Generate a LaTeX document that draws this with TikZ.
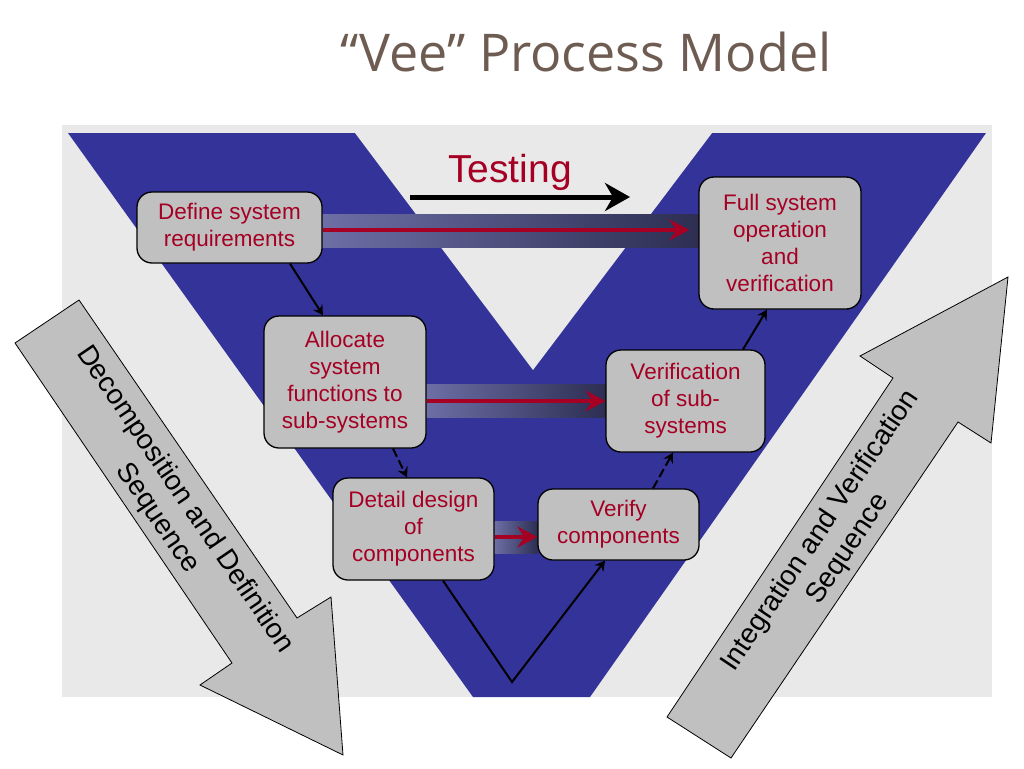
\documentclass[tikz,border=0pt]{standalone}
\usepackage{fontspec}
\setmainfont{Liberation Sans}
\newfontfamily\titlefont{Open Sans}
\usetikzlibrary{arrows.meta}
\pgfdeclarelayer{backdrop}
\pgfdeclarelayer{middle}
\pgfsetlayers{backdrop,middle,main}
\definecolor{vblue}{RGB}{51,51,153}
\definecolor{bgg}{RGB}{233,233,233}
\definecolor{boxg}{RGB}{192,192,192}
\definecolor{vred}{RGB}{165,0,36}
\definecolor{ttl}{RGB}{110,92,82}
\definecolor{barL}{RGB}{108,110,165}
\definecolor{barR}{RGB}{45,46,82}
\begin{document}
\begin{tikzpicture}[x=1pt,y=-1pt,
  stepbox/.style={draw=black, line width=1.3pt, fill=boxg, rounded corners=15pt,
    text=vred, align=center, font=\fontsize{22.5}{27}\selectfont, inner sep=0pt},
  flowarrow/.style={draw=black, line width=2pt, -{Stealth[length=10pt,width=11pt,inset=3.5pt]}},
  redarrow/.style={draw=vred, line width=4pt, -{Stealth[length=20pt,width=21pt,inset=7pt]}},
  testarrow/.style={draw=black, line width=5pt, -{Stealth[length=25pt,width=28pt,inset=8pt]}},
  bigarrow/.style={draw=black, line width=0.8pt, fill=boxg},
  bar/.style={left color=barL, right color=barR},
  arrowlabel/.style={align=center, font=\fontsize{28}{33}\selectfont, text=black}
]
\begin{pgfonlayer}{backdrop}
\useasboundingbox (0,0) rectangle (1024,768);
\fill[white] (0,0) rectangle (1024,768);
% background panel
\fill[bgg] (62,125) rectangle (992,697);
% the V
\fill[vblue] (68,133) -- (986,133) -- (590,697) -- (473,697) -- cycle;
\fill[bgg] (355,133) -- (712,133) -- (533,370) -- cycle;
\end{pgfonlayer}

% title
\node[font=\titlefont\fontsize{52}{58}\selectfont, text=ttl, anchor=base] (title) at (586,71) {“Vee” Process Model};

% boxes
\node[stepbox, minimum width=185pt, minimum height=71pt] (b1) at (229.5,227.5) {Define system\\requirements};
\node[stepbox, minimum width=162pt, minimum height=132pt] (b2) at (345,382) {Allocate\\system\\functions to\\sub-systems};
\node[stepbox, minimum width=161pt, minimum height=102pt] (b3) at (413.5,529) {Detail design\\of\\components};
\node[stepbox, minimum width=161pt, minimum height=71pt] (b4) at (618.5,524.5) {Verify\\components};
\node[stepbox, minimum width=159pt, minimum height=102pt] (b5) at (685.5,401) {Verification\\of sub-\\systems};
\node[stepbox, minimum width=162pt, minimum height=132pt] (b6) at (780,243) {Full system\\operation\\and\\verification};

% gradient bars and red arrows (behind boxes)
\begin{pgfonlayer}{middle}
\shade[bar] (b1.east |- 0,214) rectangle (b6.west |- 0,247);
\shade[bar] (b2.east |- 0,384) rectangle (b5.west |- 0,417);
\shade[bar] (b3.east |- 0,521) rectangle (b4.west |- 0,553);
\draw[redarrow, shorten >=9pt] (b1.east |- 0,230) -- (b6.west |- 0,230);
\draw[redarrow] (b2.east |- 0,401) -- (b5.west |- 0,401);
\draw[redarrow] (b3.east |- 0,537) -- (b4.west |- 0,537);
\end{pgfonlayer}

% flow arrows
\draw[flowarrow] (b1.south -| 290,0) -- (b2.north -| 323,0);
\draw[flowarrow, dash pattern=on 9pt off 4pt] (b2.south -| 393,0) -- (b3.north -| 407,0);
\coordinate (vbot) at (512,682);
\draw[flowarrow] (b3.south -| 443,0) -- (vbot) -- (b4.south -| 605,0);
\draw[flowarrow, dash pattern=on 9pt off 4pt] (b4.north -| 653,0) -- (b5.south -| 673,0);
\draw[flowarrow] (b5.north -| 743,0) -- (b6.south -| 767,0);

% testing label and arrow
\node[text=vred, font=\fontsize{39}{44}\selectfont, anchor=base] (testing) at (510,182) {Testing};
\coordinate (ts) at (410,197);
\coordinate (te) at (630,197);
\draw[testarrow] (ts) -- (te);

% big arrows
\draw[bigarrow] (15,343) -- (79,300) -- (297,618) -- (331,597) -- (343,755) -- (200,685) -- (232,663) -- cycle;
\draw[bigarrow] (667,717) -- (731,758) -- (958,422) -- (991,443) -- (1008,277) -- (860,356) -- (893,378) -- cycle;
\node[arrowlabel, rotate=-55.8] (declabel) at (171,509) {Decomposition and Definition\\Sequence};
\node[arrowlabel, rotate=56.2] (intlabel) at (834.5,540) {Integration and Verification\\Sequence};
\end{tikzpicture}
\end{document}
